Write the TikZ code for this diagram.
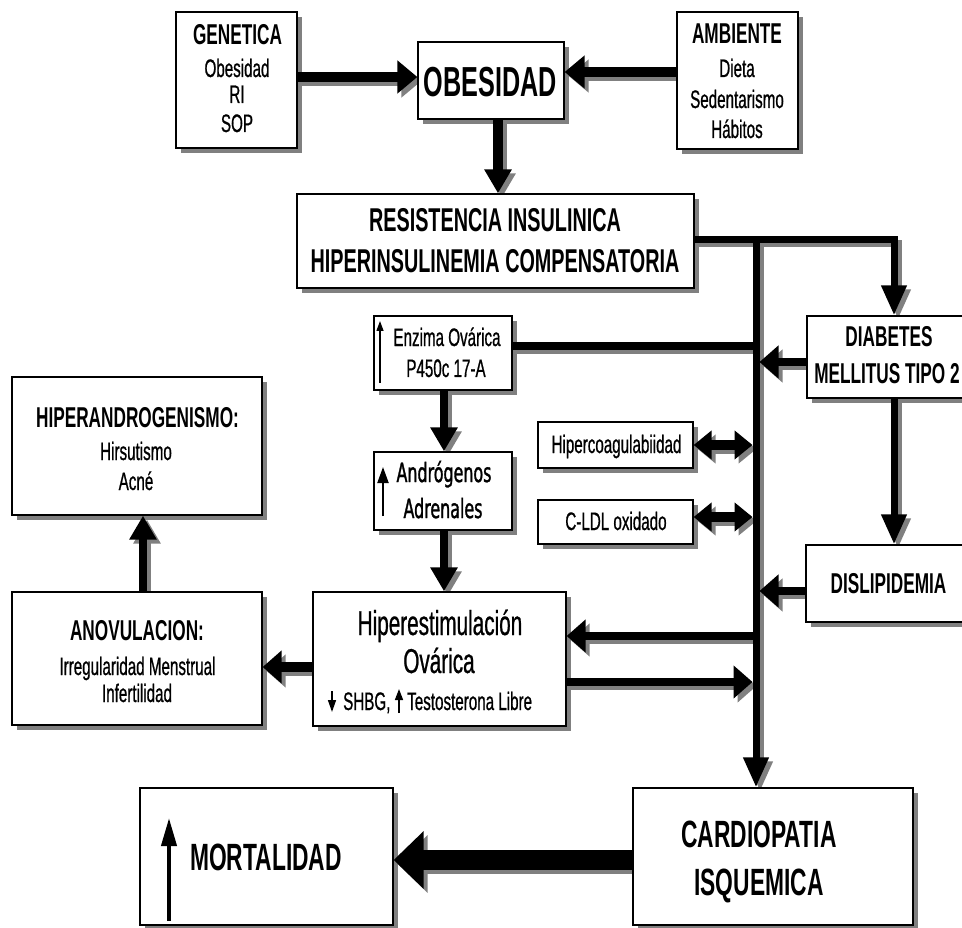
\documentclass[tikz,border=0pt]{standalone}
\usepackage{fontspec}
\setmainfont{Liberation Sans}[FakeStretch=0.6, UprightFeatures={FakeBold=0.7}]
\newfontfamily\dvfont{DejaVu Sans}[FakeStretch=0.6, FakeBold=1.2]
\usetikzlibrary{arrows.meta,shadows}
\pgfdeclarelayer{back}
\pgfdeclarelayer{bg}
\pgfsetlayers{back,bg,main}
\newcommand\sdraw[2]{%
  \begin{pgfonlayer}{bg}
  \draw[#1,draw=black!50,transform canvas={shift={(4pt,-4pt)}}] #2;
  \end{pgfonlayer}
  \draw[#1] #2;}
\newcommand\fT{\bfseries\fontsize{28.7}{32}\selectfont}
\newcommand\fS{\fontsize{25.3}{30}\selectfont}
\newcommand\fOB{\bfseries\fontsize{42}{46}\selectfont}
\newcommand\fRES{\bfseries\fontsize{33}{38}\selectfont}
\newcommand\fBIG{\bfseries\fontsize{38}{42}\selectfont}
\newcommand\fHIP{\fontsize{34.5}{38}\selectfont}
\newcommand\fAND{\dvfont\fontsize{26.5}{30}\selectfont}
\begin{document}
\begin{tikzpicture}[x=1pt,y=-1pt,
  box/.style={draw, line width=1.3pt, fill=white, inner sep=0pt,
    general shadow={fill=black!50, shadow xshift=5pt, shadow yshift=-5pt}},
  lbl/.style={anchor=base, inner sep=0pt},
  lblw/.style={anchor=base west, inner sep=0pt},
  Lhuge/.style={line width=20pt},
  Lthick/.style={line width=10pt},
  Lmed/.style={line width=8pt},
  Ltrunk/.style={line width=7pt},
  tipBig/.style={-{Triangle[width=32pt,length=20pt]}},
  tipV/.style={-{Triangle[width=26pt,length=24pt]}},
  tipD/.style={-{Triangle[width=24pt,length=30pt]}},
  tipS/.style={-{Triangle[width=32pt,length=19pt]}},
  tipDbl/.style={{Triangle[width=28pt,length=18pt]}-{Triangle[width=28pt,length=18pt]}},
  tipHuge/.style={-{Triangle[width=56pt,length=30pt]}},
  tarr/.style={line width=1.3pt, -{Triangle[width=7pt,length=10pt]}}
]
\begin{pgfonlayer}{back}\fill[white] (0,0) rectangle (962,928);\end{pgfonlayer}
\useasboundingbox (0,0) rectangle (962,928);

% boxes
\node[box,minimum width=121pt,minimum height=136pt] (gen) at (236.5,80) {};
\node[box,minimum width=146pt,minimum height=77pt] (obe) at (491,80.5) {};
\node[box,minimum width=121pt,minimum height=137pt] (amb) at (737.5,80.5) {};
\node[box,minimum width=397pt,minimum height=94pt] (res) at (495.5,241) {};
\node[box,minimum width=163pt,minimum height=82pt] (dia) at (888.5,357) {};
\node[box,minimum width=138pt,minimum height=74pt] (enz) at (443,353) {};
\node[box,minimum width=138pt,minimum height=78pt] (and) at (443,491) {};
\node[box,minimum width=155pt,minimum height=46pt] (hcoag) at (615.5,445) {};
\node[box,minimum width=155pt,minimum height=44pt] (cldl) at (615.5,522) {};
\node[box,minimum width=164pt,minimum height=77pt] (dis) at (888,583.5) {};
\node[box,minimum width=250pt,minimum height=138pt] (hyp) at (137,446) {};
\node[box,minimum width=250pt,minimum height=133pt] (ano) at (137,658.5) {};
\node[box,minimum width=253pt,minimum height=134pt] (hip) at (439.5,659) {};
\node[box,minimum width=280pt,minimum height=137pt] (car) at (773,856.5) {};
\node[box,minimum width=253pt,minimum height=137pt] (mor) at (266.5,856.5) {};

% texts
\node[lbl,font=\fT] (genT) at (237.5,45) {GENETICA};
\node[lbl,font=\fS] (genA) at (237,77) {Obesidad};
\node[lbl,font=\fS] (genB) at (237,103) {RI};
\node[lbl,font=\fS] (genC) at (237,132) {SOP};
\node[lbl,font=\fOB] (obeT) at (490.5,97) {OBESIDAD};
\node[lbl,font=\fT] (ambT) at (737,44) {AMBIENTE};
\node[lbl,font=\fS] (ambA) at (737,77) {Dieta};
\node[lbl,font=\fS] (ambB) at (737,108) {Sedentarismo};
\node[lbl,font=\fS] (ambC) at (737,138) {Hábitos};
\node[lbl,font=\fRES] (resA) at (495,232) {RESISTENCIA INSULINICA};
\node[lbl,font=\fRES] (resB) at (495,273) {HIPERINSULINEMIA COMPENSATORIA};
\node[lbl,font=\fT] (diaA) at (889,347) {DIABETES};
\node[lbl,font=\fT] (diaB) at (887,383) {MELLITUS TIPO 2};
\node[lbl,font=\fS] (enzA) at (447,346) {Enzima Ovárica};
\node[lbl,font=\fS] (enzB) at (446,377) {P450c 17-A};
\node[lbl,font=\fAND] (andA) at (444,482) {Andrógenos};
\node[lbl,font=\fAND] (andB) at (443,518) {Adrenales};
\node[lbl,font=\fS] (hcoagT) at (616.5,453) {Hipercoagulabiidad};
\node[lbl,font=\fS] (cldlT) at (616,530) {C-LDL oxidado};
\node[lbl,font=\fT] (disT) at (888.5,593) {DISLIPIDEMIA};
\node[lbl,font=\fT] (hypA) at (137.5,427) {HIPERANDROGENISMO:};
\node[lbl,font=\fS] (hypB) at (136,460) {Hirsutismo};
\node[lbl,font=\fS] (hypC) at (136,490) {Acné};
\node[lbl,font=\fT] (anoA) at (137,640) {ANOVULACION:};
\node[lbl,font=\fS] (anoB) at (137.5,675) {Irregularidad Menstrual};
\node[lbl,font=\fS] (anoC) at (137,702) {Infertilidad};
\node[lbl,font=\fHIP] (hipA) at (440,635) {Hiperestimulación};
\node[lbl,font=\fHIP] (hipB) at (439,673) {Ovárica};
\node[lblw,font=\fS] (hipC) at (343,710) {SHBG,};
\node[lblw,font=\fS] (hipD) at (407,710) {Testosterona Libre};
\node[lbl,font=\fBIG] (carA) at (759,847) {CARDIOPATIA};
\node[lbl,font=\fBIG] (carB) at (759,895) {ISQUEMICA};
\node[lblw,font=\fBIG] (morT) at (190,870) {MORTALIDAD};

% small arrows inside texts
\draw[tarr] (380,383) -- (380,321);
\draw[line width=2pt,-{Triangle[width=11pt,length=16pt]}] (383,516) -- (383,467);
\draw[line width=1.5pt,-{Triangle[width=8pt,length=12pt]}] (332,691) -- (332,712);
\draw[line width=1.5pt,-{Triangle[width=8pt,length=11pt]}] (399,713) -- (399,689);
\draw[line width=4pt,-{Triangle[width=15pt,length=28pt]}] (169,921) -- (169,818);

% helper coordinates
\coordinate (yA) at (0,77);
\coordinate (yB) at (0,72);
\coordinate (xOR) at (498,0);
\coordinate (cRD) at (894,240);
\coordinate (tTop) at (756,236.5);
\coordinate (tL) at (752.5,0);
\coordinate (tR) at (759.5,0);
\coordinate (yEnz) at (0,346);
\coordinate (yDia) at (0,362);
\coordinate (yHc) at (0,445);
\coordinate (yLdl) at (0,517);
\coordinate (yDis) at (0,591);
\coordinate (yHi1) at (0,636);
\coordinate (yHi2) at (0,682);
\coordinate (yAno) at (0,667);
\coordinate (xEA) at (444,0);
\coordinate (xAH) at (143,0);
\coordinate (yCM) at (0,860);

% connectors
\sdraw{Lthick,tipBig}{(gen.east |- yA) -- (obe.west |- yA)}
\sdraw{Lthick,tipBig}{(amb.west |- yB) -- (obe.east |- yB)}
\sdraw{Lthick,tipV}{(xOR |- obe.south) -- (xOR |- res.north)}
\sdraw{Ltrunk,tipD}{(res.east |- cRD) -- (cRD) -- (cRD |- dia.north)}
\sdraw{Ltrunk,tipD}{(tTop) -- (tTop |- car.north)}
\sdraw{Lmed}{(enz.east |- yEnz) -- (tTop |- yEnz)}
\sdraw{Lmed,tipS}{(dia.west |- yDia) -- (tR |- yDia)}
\sdraw{Lthick,tipDbl}{(hcoag.east |- yHc) -- (tL |- yHc)}
\sdraw{Lthick,tipDbl}{(cldl.east |- yLdl) -- (tL |- yLdl)}
\sdraw{Ltrunk,tipD}{(cRD |- dia.south) -- (cRD |- dis.north)}
\sdraw{Lmed,tipS}{(dis.west |- yDis) -- (tR |- yDis)}
\sdraw{Lmed,tipS}{(tTop |- yHi1) -- (hip.east |- yHi1)}
\sdraw{Lmed,tipS}{(hip.east |- yHi2) -- (tL |- yHi2)}
\sdraw{Lthick,tipS}{(hip.west |- yAno) -- (ano.east |- yAno)}
\sdraw{Lmed,tipV}{(xEA |- enz.south) -- (xEA |- and.north)}
\sdraw{Lmed,tipV}{(xEA |- and.south) -- (xEA |- hip.north)}
\sdraw{Lmed,tipV}{(xAH |- ano.north) -- (xAH |- hyp.south)}
\sdraw{Lhuge,tipHuge}{(car.west |- yCM) -- (mor.east |- yCM)}
\end{tikzpicture}
\end{document}
